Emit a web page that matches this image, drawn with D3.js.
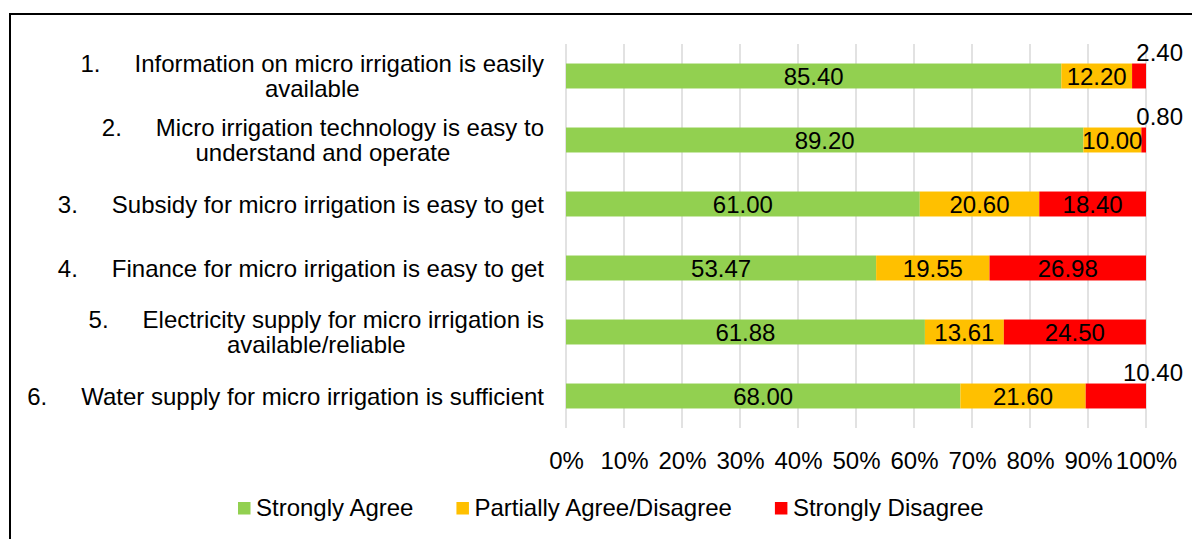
<!DOCTYPE html>
<html>
<head>
<meta charset="utf-8">
<script src="https://cdn.jsdelivr.net/npm/d3@7"></script>
<style>
  html, body { margin: 0; padding: 0; background: #fff; }
  svg { display: block; font-family: "Liberation Sans", Arial, sans-serif; }
</style>
</head>
<body>
<svg id="chart" width="1192" height="539"></svg>
<script>
// ---- data ----
const categoryNumbers = ["1.", "2.", "3.", "4.", "5.", "6."];
const categoryLines = [
  ["Information on micro irrigation is easily", "available"],
  ["Micro irrigation technology is easy to", "understand and operate"],
  ["Subsidy for micro irrigation is easy to get"],
  ["Finance for micro irrigation is easy to get"],
  ["Electricity supply for micro irrigation is", "available/reliable"],
  ["Water supply for micro irrigation is sufficient"]
];
const seriesNames = ["Strongly Agree", "Partially Agree/Disagree", "Strongly Disagree"];
const stronglyAgree = [85.40, 89.20, 61.00, 53.47, 61.88, 68.00];
const partiallyAgree = [12.20, 10.00, 20.60, 19.55, 13.61, 21.60];
const stronglyDisagree = [2.40, 0.80, 18.40, 26.98, 24.50, 10.40];
const tickValues = [0, 10, 20, 30, 40, 50, 60, 70, 80, 90, 100];
const colors = ["#92D050", "#FFC000", "#FF0000"];

// ---- layout ----
const FONT = 24;
const svg = d3.select("#chart");
const x = d3.scaleLinear().domain([0, 100]).range([566, 1146]);
const y = d3.scaleBand().domain(d3.range(categoryLines.length))
  .range([44, 428]).paddingInner(0.61).paddingOuter(0.305);

// frame
svg.append("path").attr("d", "M10,539V14H1192")
  .attr("fill", "none").attr("stroke", "#000").attr("stroke-width", 2);

// gridlines
svg.append("g").selectAll("line").data(tickValues).join("line")
  .attr("x1", d => x(d)).attr("x2", d => x(d))
  .attr("y1", 44).attr("y2", 428)
  .attr("stroke", "#D9D9D9").attr("stroke-width", 1.5);

// x axis labels via d3 axis
const xAxis = d3.axisBottom(x).tickValues(tickValues).tickFormat(d => d + "%").tickSize(0).tickPadding(0);
const gx = svg.append("g").attr("transform", "translate(0,452)").call(xAxis);
gx.select(".domain").remove();
gx.selectAll("text").attr("font-size", FONT).attr("fill", "#000")
  .attr("font-family", "Liberation Sans, Arial, sans-serif").attr("dy", "0.71em");

// stacked data
const rows = categoryLines.map((c, i) => ({i, vals: [stronglyAgree[i], partiallyAgree[i], stronglyDisagree[i]]}));
const stack = d3.stack().keys([0, 1, 2]).value((d, k) => d.vals[k]);
const layers = stack(rows);

const gBars = svg.append("g");
layers.forEach((layer, k) => {
  gBars.append("g").attr("fill", colors[k]).selectAll("rect").data(layer).join("rect")
    .attr("x", d => x(d[0]))
    .attr("width", d => x(d[1]) - x(d[0]))
    .attr("y", d => y(d.data.i))
    .attr("height", y.bandwidth());
});

// value labels
const gLab = svg.append("g").attr("font-size", FONT).attr("fill", "#000");
layers.forEach((layer, k) => {
  layer.forEach(d => {
    const v = d.data.vals[k];
    const t = v.toFixed(2);
    if (k === 2 && v < 11) {
      gLab.append("text").attr("x", x(100) + 37).attr("y", y(d.data.i) - 3)
        .attr("text-anchor", "end").text(t);
    } else {
      gLab.append("text").attr("x", (x(d[0]) + x(d[1])) / 2)
        .attr("y", y(d.data.i) + y.bandwidth() / 2 + 8.6)
        .attr("text-anchor", "middle").text(t);
    }
  });
});

// category labels
const gCat = svg.append("g").attr("font-size", FONT).attr("fill", "#000");
const labelRight = 544, numGap = 54, lineH = 25;
categoryLines.forEach((lines, i) => {
  const cy = y(i) + y.bandwidth() / 2;
  const b0 = cy + 8.6 - (lines.length - 1) * lineH / 2;
  const t1 = gCat.append("text").attr("x", labelRight).attr("y", b0)
    .attr("text-anchor", "end").text(lines[0]);
  const w = t1.node().getComputedTextLength();
  const start = labelRight - w;
  const numX = start - numGap;
  gCat.append("text").attr("x", numX).attr("y", b0).text(categoryNumbers[i]);
  for (let j = 1; j < lines.length; j++) {
    gCat.append("text").attr("x", (numX + labelRight) / 2).attr("y", b0 + j * lineH)
      .attr("text-anchor", "middle").text(lines[j]);
  }
});

// legend
const gLeg = svg.append("g").attr("font-size", FONT);
let lx = 238;
seriesNames.forEach((name, k) => {
  gLeg.append("rect").attr("x", lx).attr("y", 502).attr("width", 12.5).attr("height", 12.5).attr("fill", colors[k]);
  const t = gLeg.append("text").attr("x", lx + 18).attr("y", 516).attr("fill", "#000").text(name);
  lx += 18 + t.node().getComputedTextLength() + 43;
});
</script>
</body>
</html>
